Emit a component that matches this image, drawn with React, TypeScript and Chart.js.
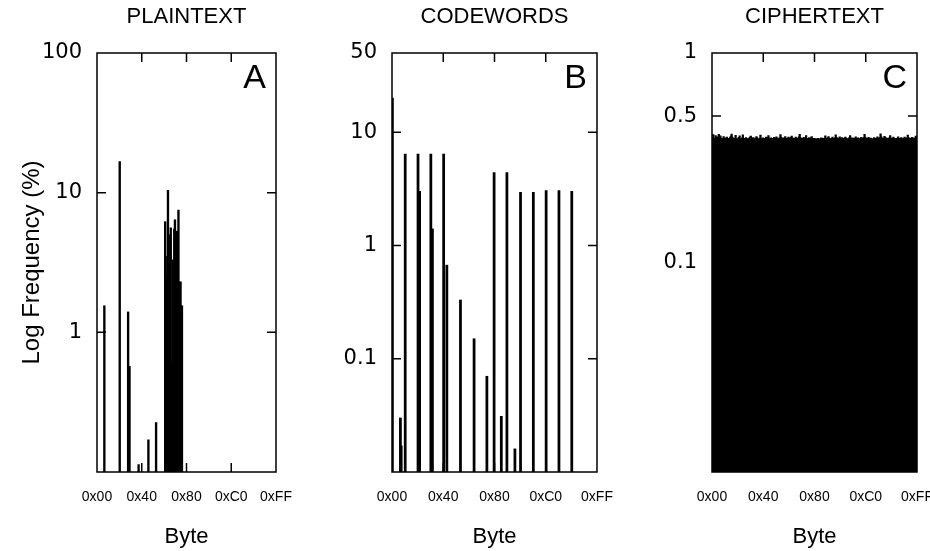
import React, { useEffect, useRef } from "react";
import { Chart, registerables } from "chart.js";

Chart.register(...registerables);

// ---------- data ----------
const xTickValues = [0, 64, 128, 192, 256];
const xTickLabels = ["0x00", "0x40", "0x80", "0xC0", "0xFF"];

// Panel A: plaintext byte frequencies (%)
const plainBytes = [10, 32, 44, 46, 59, 73, 84,
  97, 98, 99, 100, 101, 102, 103, 104, 105, 106, 107, 108, 109,
  110, 111, 112, 113, 114, 115, 116, 117, 118, 119, 120, 121, 122];
const plainFreq = [1.55, 16.7, 1.4, 0.57, 0.113, 0.17, 0.226,
  6.2, 1.2, 2.5, 3.5, 10.4, 1.8, 1.6, 5.0, 5.6, 0.37, 0.6, 3.3, 2.0,
  5.5, 6.4, 1.6, 0.12, 5.3, 5.2, 7.5, 2.3, 0.8, 2.3, 0.15, 1.55, 0.1];
const plainYTicks = [100, 10, 1];
const plainYLabels = ["100", "10", "1"];

// Panel B: codewords byte frequencies (%)
const codeBytes = [0, 10, 11, 16, 32, 34, 48, 50, 64, 68, 85, 102, 118,
  127, 136, 143, 153, 160, 176, 192, 208, 224];
const codeFreq = [20, 0.030, 0.017, 6.4, 6.4, 3.0, 6.4, 1.4, 6.4, 0.67, 0.33, 0.15, 0.07,
  4.4, 0.031, 4.4, 0.016, 2.95, 2.95, 3.05, 3.05, 3.0];
const codeYTicks = [50, 10, 1, 0.1];
const codeYLabels = ["50", "10", "1", "0.1"];

// Panel C: ciphertext byte frequencies (%), bytes 0x00..0xFF
const cipherFreq = [
  0.395, 0.408, 0.388, 0.392, 0.404, 0.383, 0.398, 0.391, 0.409, 0.389, 0.402, 0.393, 0.385, 0.390, 0.399, 0.394,
  0.387, 0.392, 0.397, 0.381, 0.391, 0.389, 0.395, 0.401, 0.410, 0.397, 0.392, 0.388, 0.393, 0.405, 0.390, 0.384,
  0.391, 0.396, 0.402, 0.389, 0.385, 0.394, 0.407, 0.392, 0.387, 0.391, 0.395, 0.390, 0.382, 0.389, 0.393, 0.397,
  0.401, 0.392, 0.388, 0.395, 0.390, 0.383, 0.393, 0.399, 0.394, 0.389, 0.385, 0.391, 0.406, 0.392, 0.388, 0.394,
  0.390, 0.386, 0.392, 0.397, 0.391, 0.395, 0.404, 0.393, 0.388, 0.394, 0.390, 0.382, 0.391, 0.396, 0.389, 0.393,
  0.398, 0.392, 0.387, 0.391, 0.395, 0.408, 0.396, 0.389, 0.393, 0.388, 0.394, 0.399, 0.391, 0.383, 0.392, 0.397,
  0.393, 0.389, 0.395, 0.401, 0.394, 0.390, 0.386, 0.392, 0.397, 0.391, 0.384, 0.393, 0.398, 0.409, 0.395, 0.390,
  0.386, 0.391, 0.396, 0.392, 0.388, 0.403, 0.390, 0.385, 0.391, 0.395, 0.389, 0.393, 0.399, 0.392, 0.387, 0.391,
  0.389, 0.385, 0.390, 0.383, 0.392, 0.388, 0.384, 0.390, 0.394, 0.389, 0.391, 0.387, 0.393, 0.402, 0.392, 0.388,
  0.394, 0.399, 0.393, 0.389, 0.386, 0.392, 0.397, 0.391, 0.388, 0.394, 0.407, 0.396, 0.390, 0.387, 0.393, 0.398,
  0.392, 0.388, 0.395, 0.390, 0.382, 0.391, 0.397, 0.393, 0.389, 0.385, 0.390, 0.395, 0.404, 0.393, 0.389, 0.394,
  0.391, 0.387, 0.393, 0.398, 0.392, 0.388, 0.394, 0.390, 0.386, 0.391, 0.396, 0.392, 0.389, 0.395, 0.409, 0.397,
  0.391, 0.387, 0.392, 0.396, 0.390, 0.386, 0.393, 0.388, 0.381, 0.390, 0.395, 0.391, 0.387, 0.392, 0.398, 0.394,
  0.389, 0.395, 0.411, 0.398, 0.392, 0.388, 0.394, 0.400, 0.396, 0.390, 0.387, 0.393, 0.389, 0.394, 0.403, 0.393,
  0.388, 0.392, 0.397, 0.391, 0.383, 0.392, 0.388, 0.393, 0.398, 0.392, 0.387, 0.391, 0.395, 0.390, 0.386, 0.392,
  0.397, 0.393, 0.389, 0.394, 0.406, 0.395, 0.390, 0.386, 0.391, 0.396, 0.392, 0.388, 0.394, 0.390, 0.401, 0.391,
];
const cipherBytes = cipherFreq.map((_, i) => i);
const cipherYTicks = [1, 0.5, 0.1];
const cipherYLabels = ["1", "0.5", "0.1"];

const SANS = '"Liberation Sans", Arial, sans-serif';

// ---------- plugin: gnuplot-style frame, inward ticks, panel title and letter ----------
const framePlugin = {
  id: "frame",
  afterDatasetsDraw(chart: any, _args: any, opts: any) {
    const { ctx, chartArea, scales } = chart;
    const { left, right, top, bottom } = chartArea;
    const x = scales.x;
    const y = scales.y;
    ctx.save();
    ctx.strokeStyle = "#000";
    ctx.lineWidth = 1.5;
    ctx.strokeRect(left, top, right - left, bottom - top);
    const L = 9;
    ctx.beginPath();
    for (const v of opts.xTicks) {
      const px = x.getPixelForValue(v);
      ctx.moveTo(px, top);
      ctx.lineTo(px, top + L);
      ctx.moveTo(px, bottom);
      ctx.lineTo(px, bottom - L);
    }
    for (const v of opts.yTicks) {
      const py = y.getPixelForValue(v);
      ctx.moveTo(left, py);
      ctx.lineTo(left + L, py);
      ctx.moveTo(right, py);
      ctx.lineTo(right - L, py);
    }
    ctx.stroke();
    ctx.fillStyle = "#000";
    // panel letter
    ctx.font = `34px ${SANS}`;
    ctx.textAlign = "right";
    ctx.textBaseline = "alphabetic";
    ctx.fillText(opts.letter, right - 10, top + 35);
    // panel title
    ctx.font = `22px ${SANS}`;
    ctx.textAlign = "center";
    ctx.textBaseline = "middle";
    ctx.fillText(opts.title, (left + right) / 2, 17);
    ctx.restore();
  },
};

type PanelProps = {
  title: string;
  letter: string;
  bytes: number[];
  freq: number[];
  yMin: number;
  yMax: number;
  yTicks: number[];
  yLabels: string[];
  innerYTicks: number[];
  left: number;
  width: number;
  axisWidth: number;
  padRight: number;
  barThickness: number;
  yTitle?: string;
};

function Panel(p: PanelProps) {
  const ref = useRef<HTMLCanvasElement>(null);
  useEffect(() => {
    if (!ref.current) return;
    const data = p.bytes.map((b, i) => ({ x: b + 0.5, y: p.freq[i] }));
    const chart = new Chart(ref.current, {
      type: "bar",
      data: {
        datasets: [
          {
            data,
            backgroundColor: "#000",
            borderWidth: 0,
            barThickness: p.barThickness,
          } as any,
        ],
      },
      options: {
        responsive: false,
        animation: false,
        layout: { padding: { left: 0, right: p.padRight, top: 53, bottom: 0 } },
        plugins: {
          legend: { display: false },
          tooltip: { enabled: false },
          title: { display: false },
          frame: { xTicks: [64, 128, 192], yTicks: p.innerYTicks, letter: p.letter, title: p.title },
        } as any,
        scales: {
          x: {
            type: "linear",
            min: 0,
            max: 256,
            offset: false,
            grid: { display: false, drawTicks: false },
            border: { display: false },
            afterBuildTicks: (s: any) => {
              s.ticks = xTickValues.map((v) => ({ value: v }));
            },
            afterFit: (s: any) => {
              s.height = 79;
              s.paddingLeft = 0;
              s.paddingRight = 0;
            },
            ticks: {
              autoSkip: false,
              maxRotation: 0,
              minRotation: 0,
              padding: 17,
              color: "#000",
              font: { family: SANS, size: 14 },
              callback: (v: any) => {
                const i = xTickValues.indexOf(Number(v));
                return i >= 0 ? xTickLabels[i] : "";
              },
            },
            title: {
              display: true,
              text: "Byte",
              color: "#000",
              font: { family: SANS, size: 22 },
              padding: { top: 0, bottom: 1 },
            },
          },
          y: {
            type: "logarithmic",
            min: p.yMin,
            max: p.yMax,
            grid: { display: false, drawTicks: false },
            border: { display: false },
            afterBuildTicks: (s: any) => {
              s.ticks = p.yTicks.map((v) => ({ value: v }));
            },
            afterFit: (s: any) => {
              s.width = p.axisWidth;
              s.paddingTop = 0;
              s.paddingBottom = 0;
            },
            ticks: {
              autoSkip: false,
              padding: 15,
              color: "#000",
              font: { family: '"DejaVu Sans", sans-serif', size: 21 },
              callback: (v: any) => {
                const i = p.yTicks.indexOf(Number(v));
                return i >= 0 ? p.yLabels[i] : "";
              },
            },
            title: {
              display: !!p.yTitle,
              text: p.yTitle || "",
              color: "#000",
              font: { family: SANS, size: 24 },
              padding: { top: 18, bottom: 0 },
            },
          },
        },
      },
      plugins: [framePlugin as any],
    });
    return () => chart.destroy();
  }, []);
  return (
    <div style={{ position: "absolute", left: p.left, top: 0, width: p.width, height: 551 }}>
      <canvas ref={ref} width={p.width} height={551} style={{ display: "block" }} />
    </div>
  );
}

export default function App() {
  return (
    <div
      style={{
        position: "absolute",
        left: 0,
        top: 0,
        width: 930,
        height: 551,
        background: "#fff",
        overflow: "hidden",
      }}
    >
      <Panel
        title="PLAINTEXT"
        letter="A"
        bytes={plainBytes}
        freq={plainFreq}
        yMin={0.1}
        yMax={100}
        yTicks={plainYTicks}
        yLabels={plainYLabels}
        innerYTicks={[10, 1]}
        left={0}
        width={300}
        axisWidth={97}
        padRight={24}
        barThickness={1.7}
        yTitle="Log Frequency (%)"
      />
      <Panel
        title="CODEWORDS"
        letter="B"
        bytes={codeBytes}
        freq={codeFreq}
        yMin={0.01}
        yMax={50}
        yTicks={codeYTicks}
        yLabels={codeYLabels}
        innerYTicks={[10, 1, 0.1]}
        left={300}
        width={320}
        axisWidth={92}
        padRight={23}
        barThickness={2.1}
      />
      <Panel
        title="CIPHERTEXT"
        letter="C"
        bytes={cipherBytes}
        freq={cipherFreq}
        yMin={0.01}
        yMax={1}
        yTicks={cipherYTicks}
        yLabels={cipherYLabels}
        innerYTicks={[0.5, 0.1]}
        left={620}
        width={310}
        axisWidth={92}
        padRight={13}
        barThickness={1.6}
      />
    </div>
  );
}
